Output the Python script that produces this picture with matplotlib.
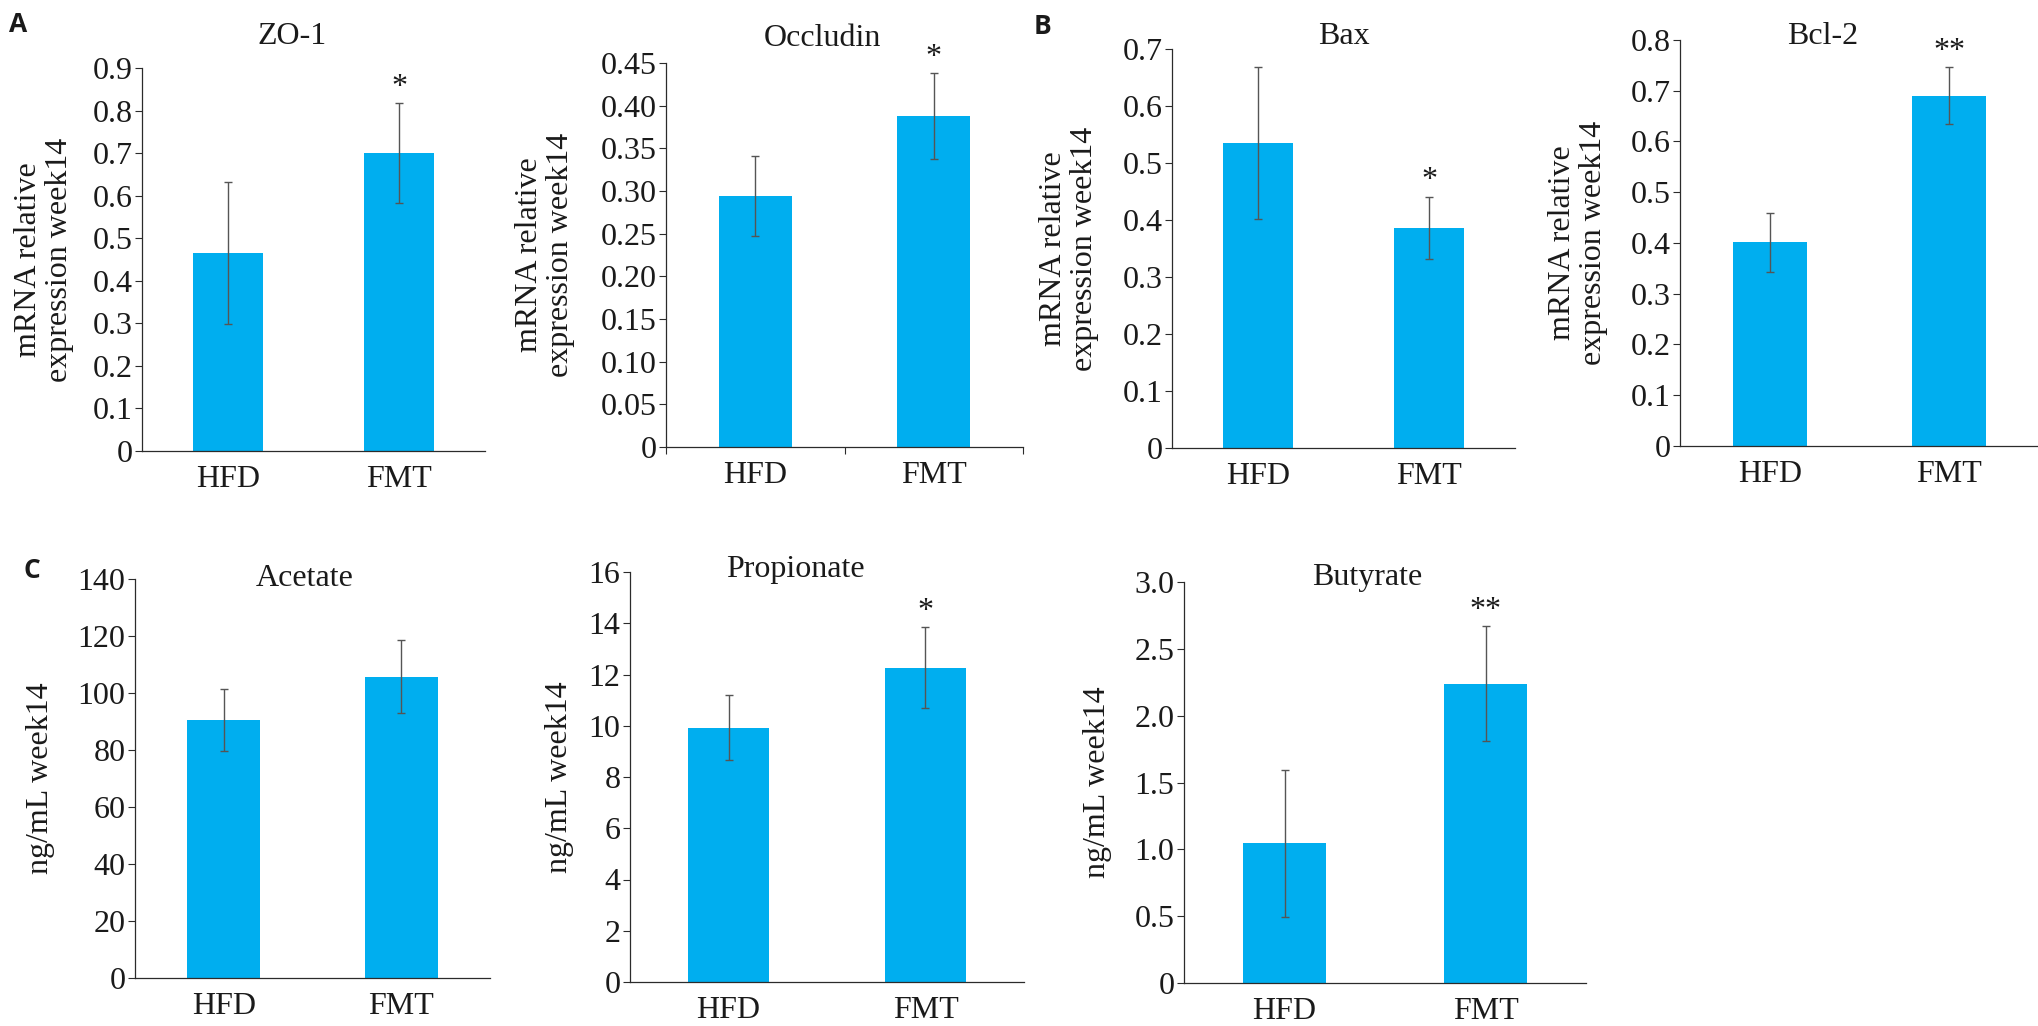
import matplotlib
matplotlib.use("Agg")
import matplotlib.pyplot as plt

W, H = 2038, 1026

groups = ["HFD", "FMT"]

zo1_mean = [0.465, 0.700]
zo1_err = [0.166, 0.117]
occludin_mean = [0.294, 0.388]
occludin_err = [0.047, 0.050]
bax_mean = [0.535, 0.386]
bax_err = [0.133, 0.055]
bcl2_mean = [0.401, 0.690]
bcl2_err = [0.059, 0.056]
acetate_mean = [90.6, 105.7]
acetate_err = [10.8, 12.8]
propionate_mean = [9.93, 12.27]
propionate_err = [1.28, 1.57]
butyrate_mean = [1.047, 2.239]
butyrate_err = [0.55, 0.43]

zo1_ticks = ["0", "0.1", "0.2", "0.3", "0.4", "0.5", "0.6", "0.7", "0.8", "0.9"]
occludin_ticks = ["0", "0.05", "0.10", "0.15", "0.20", "0.25", "0.30", "0.35", "0.40", "0.45"]
bax_ticks = ["0", "0.1", "0.2", "0.3", "0.4", "0.5", "0.6", "0.7"]
bcl2_ticks = ["0", "0.1", "0.2", "0.3", "0.4", "0.5", "0.6", "0.7", "0.8"]
acetate_ticks = ["0", "20", "40", "60", "80", "100", "120", "140"]
propionate_ticks = ["0", "2", "4", "6", "8", "10", "12", "14", "16"]
butyrate_ticks = ["0", "0.5", "1.0", "1.5", "2.0", "2.5", "3.0"]

zo1_sig = ["", "*"]
occludin_sig = ["", "*"]
bax_sig = ["", "*"]
bcl2_sig = ["", "**"]
acetate_sig = ["", ""]
propionate_sig = ["", "*"]
butyrate_sig = ["", "**"]

mrna_label = "mRNA relative\nexpression week14"
scfa_label = "ng/mL week14"

plt.rcParams['font.family'] = ['Liberation Serif', 'DejaVu Serif']
SERIF = ['Liberation Serif', 'DejaVu Serif']
BAR = '#00aeef'
INK = '#2b2b2b'
FS = 23

fig = plt.figure(figsize=(W / 100, H / 100), dpi=100)


def px_axes(l, t, r, b):
    return fig.add_axes([l / W, 1 - b / H, (r - l) / W, (b - t) / H])


def fig_text(x, y, s, **kw):
    fig.text(x / W, 1 - y / H, s, **kw)


def panel(box, mean, err, ticks, sig, title, title_xy, ylabel, ylabel_x, mid_ticks=False):
    ax = px_axes(*box)
    xs = [0.5, 1.5]
    ax.bar(xs, mean, width=0.41, color=BAR, zorder=2)
    ax.errorbar(xs, mean, yerr=err, fmt='none', ecolor='#555555',
                elinewidth=1.0, capsize=3, capthick=1.0, zorder=3)
    vals = [float(t) for t in ticks]
    ax.set_xlim(0, 2)
    ax.set_ylim(0, vals[-1])
    ax.set_yticks(vals)
    ax.set_yticklabels(ticks, family=SERIF)
    ax.set_xticks(xs)
    ax.set_xticklabels(groups, family=SERIF)
    ax.tick_params(axis='y', direction='out', length=5, width=0.8, color=INK,
                   labelsize=FS, pad=2, labelcolor='#1a1a1a')
    ax.tick_params(axis='x', length=0, labelsize=FS, pad=10, labelcolor='#1a1a1a')
    if mid_ticks:
        ax.set_xticks([0, 1, 2], minor=True)
        ax.tick_params(axis='x', which='minor', direction='out', length=5,
                       width=0.8, color=INK)
    for side in ['top', 'right']:
        ax.spines[side].set_visible(False)
    for side in ['left', 'bottom']:
        ax.spines[side].set_color(INK)
        ax.spines[side].set_linewidth(0.9)
    for x, m, e, s in zip(xs, mean, err, sig):
        if s:
            ax.annotate(s, (x, m + e), xytext=(0, 6), textcoords='offset points',
                        ha='center', va='baseline', fontsize=FS, color='#1a1a1a',
                        family=SERIF)
    fig_text(title_xy[0], title_xy[1], title, ha='center', va='center',
             fontsize=FS, color='#1a1a1a', family=SERIF)
    cy = (box[1] + box[3]) / 2
    fig_text(ylabel_x, cy, ylabel, rotation=90, ha='center', va='center',
             fontsize=FS, color='#1a1a1a', linespacing=1.05, family=SERIF)
    return ax


panel((142, 68, 485, 451), zo1_mean, zo1_err, zo1_ticks, zo1_sig,
      "ZO-1", (292, 37), mrna_label, 44)
panel((666, 63, 1023, 447), occludin_mean, occludin_err, occludin_ticks, occludin_sig,
      "Occludin", (822, 39), mrna_label, 545, mid_ticks=True)
panel((1172, 49, 1515, 448), bax_mean, bax_err, bax_ticks, bax_sig,
      "Bax", (1344, 37), mrna_label, 1069)
panel((1680, 40, 2039, 446), bcl2_mean, bcl2_err, bcl2_ticks, bcl2_sig,
      "Bcl-2", (1823, 37), mrna_label, 1578)
panel((135, 579, 490, 978), acetate_mean, acetate_err, acetate_ticks, acetate_sig,
      "Acetate", (305, 578), scfa_label, 41)
panel((630, 572, 1024, 982), propionate_mean, propionate_err, propionate_ticks, propionate_sig,
      "Propionate", (795, 570), scfa_label, 559)
panel((1184, 582, 1586, 983), butyrate_mean, butyrate_err, butyrate_ticks, butyrate_sig,
      "Butyrate", (1367, 578), scfa_label, 1097)

for letter, x, y in [("A", 18, 24), ("B", 1042, 27), ("C", 32, 571)]:
    fig_text(x, y, letter, ha='center', va='center', fontsize=19,
             fontweight='bold', family=['Open Sans', 'DejaVu Sans'], color='#1a1a1a')

fig.savefig("out.png", dpi=100)
